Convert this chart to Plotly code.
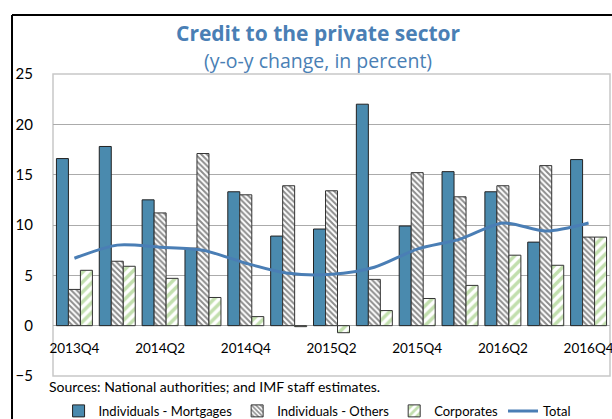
import plotly.graph_objects as go

quarters = [
    "2013Q4", "2014Q1", "2014Q2", "2014Q3", "2014Q4", "2015Q1", "2015Q2",
    "2015Q3", "2015Q4", "2016Q1", "2016Q2", "2016Q3", "2016Q4",
]
mortgages = [16.6, 17.8, 12.5, 7.7, 13.3, 8.9, 9.6, 22.0, 9.9, 15.3, 13.3, 8.3, 16.5]
others = [3.6, 6.4, 11.2, 17.1, 13.0, 13.9, 13.4, 4.6, 15.2, 12.8, 13.9, 15.9, 8.8]
corporates = [5.5, 5.9, 4.7, 2.8, 0.9, -0.1, -0.7, 1.5, 2.7, 4.0, 7.0, 6.0, 8.8]
total = [6.7, 8.0, 7.8, 7.5, 6.2, 5.2, 5.1, 5.8, 7.6, 8.6, 10.2, 9.4, 10.2]

tick_labels = quarters[::2]
y_ticks = [-5, 0, 5, 10, 15, 20, 25]

BLUE = "#4a8aae"
LINE_BLUE = "#4a7eb5"
TITLE_BLUE = "#4a7fb5"
GREEN = "#86bf5e"
FONT = "Lato"
TITLE_FONT = "Open Sans"

fig = go.Figure()

fig.add_trace(
    go.Bar(
        x=quarters,
        y=mortgages,
        name="Individuals - Mortgages",
        marker=dict(color=BLUE, line=dict(color="#222222", width=1)),
    )
)
fig.add_trace(
    go.Bar(
        x=quarters,
        y=others,
        name="Individuals - Others",
        marker=dict(
            color="white",
            line=dict(color="#333333", width=1),
            pattern=dict(shape="\\", fgcolor="#1a1a1a", bgcolor="white", size=4, solidity=0.5),
        ),
    )
)
fig.add_trace(
    go.Bar(
        x=quarters,
        y=corporates,
        name="Corporates",
        marker=dict(
            color="white",
            line=dict(color="#333333", width=1),
            pattern=dict(shape="/", fgcolor=GREEN, bgcolor="white", size=7, solidity=0.5),
        ),
    )
)
fig.add_trace(
    go.Scatter(
        x=quarters,
        y=total,
        name="Total",
        mode="lines",
        line=dict(color=LINE_BLUE, width=3, shape="spline", smoothing=0.8),
    )
)

fig.update_layout(
    width=612,
    height=419,
    margin=dict(l=53, r=2, t=74, b=43, autoexpand=False),
    paper_bgcolor="white",
    plot_bgcolor="white",
    font=dict(family=FONT, size=14, color="black"),
    barmode="group",
    bargap=0.16,
    bargroupgap=0,
    showlegend=True,
    legend=dict(
        orientation="h",
        x=0.01,
        xanchor="left",
        y=-0.066,
        yanchor="top",
        font=dict(size=13),
        itemwidth=30,
        tracegroupgap=0,
        bgcolor="rgba(0,0,0,0)",
    ),
    xaxis=dict(
        type="category",
        range=[-0.5, 12.5],
        tickvals=tick_labels,
        ticktext=tick_labels,
        showgrid=False,
        showline=False,
        ticks="",
        anchor="free",
        position=1 / 6,
        ticklabelstandoff=13,
        tickfont=dict(size=13.5),
    ),
    yaxis=dict(
        range=[-5, 25],
        tickvals=y_ticks,
        showgrid=True,
        gridcolor="#ababab",
        gridwidth=1,
        zeroline=False,
        showline=False,
        ticks="",
        ticklabelstandoff=19,
        tickfont=dict(size=15),
    ),
    shapes=[
        # plot box
        dict(type="rect", xref="paper", yref="paper", x0=0, x1=1, y0=0, y1=1,
             line=dict(color="#c8c8c8", width=1.5), layer="below"),
        # outer frame: only its left and top edges fall inside the picture
        dict(type="line", xref="paper", yref="paper", x0=-0.0736, x1=-0.0736, y0=-0.4, y1=1.195,
             line=dict(color="black", width=2)),
        dict(type="line", xref="paper", yref="paper", x0=-0.0736, x1=1.2, y0=1.195, y1=1.195,
             line=dict(color="black", width=2)),
    ],
    annotations=[
        dict(text="<b>Credit to the private sector</b>", xref="paper", yref="paper",
             x=0.476, y=1.136, xanchor="center", yanchor="middle", showarrow=False,
             font=dict(family=TITLE_FONT, size=21, color=TITLE_BLUE)),
        dict(text="(y-o-y change, in percent)", xref="paper", yref="paper",
             x=0.476, y=1.046, xanchor="center", yanchor="middle", showarrow=False,
             font=dict(family=TITLE_FONT, size=19.5, color=TITLE_BLUE)),
        dict(text="Sources: National authorities; and IMF staff estimates.", xref="paper",
             yref="paper", x=-0.011, y=-0.036, xanchor="left", yanchor="middle",
             showarrow=False, font=dict(size=14)),
    ],
)

# drop the page's default body margin so the figure sits at the window's corner
fig.write_html(
    "out.html",
    config={"displayModeBar": False},
    post_script="document.body.style.margin = '0'; document.body.style.overflow = 'hidden';",
)
